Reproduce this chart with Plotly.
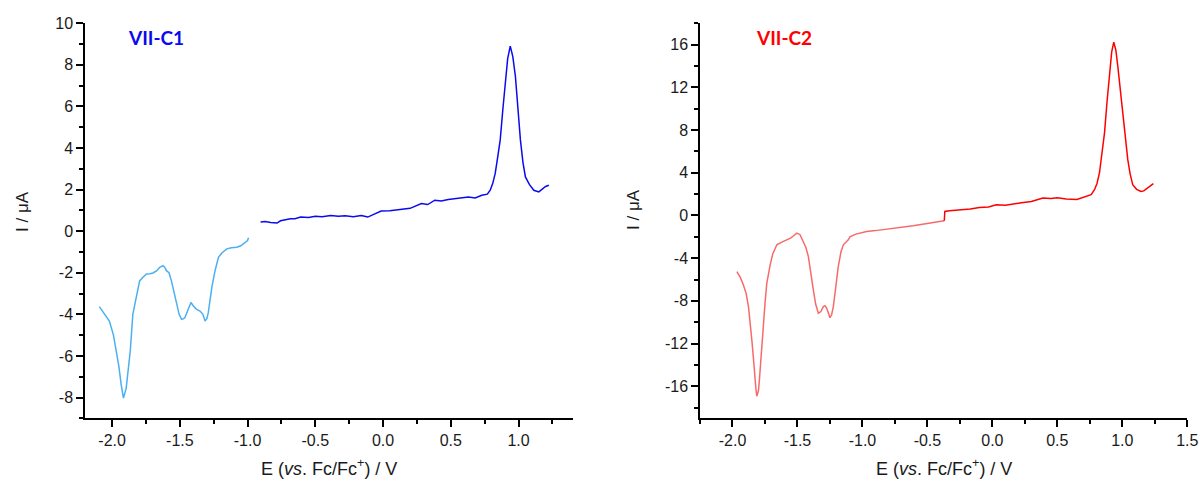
import plotly.graph_objects as go

# ---------------- data ----------------
# VII-C1, cathodic part (light blue)
E1_red = [-2.094, -2.06, -2.02, -1.99, -1.97, -1.95, -1.933, -1.916, -1.896, -1.88, -1.866, -1.847,
          -1.82, -1.797, -1.77, -1.747, -1.72, -1.698, -1.67, -1.649, -1.624, -1.61, -1.599, -1.58,
          -1.562, -1.545, -1.525, -1.505, -1.487, -1.475, -1.463, -1.44, -1.418, -1.40, -1.376,
          -1.351, -1.33, -1.314, -1.30, -1.290, -1.277, -1.264, -1.24, -1.215, -1.19, -1.153,
          -1.12, -1.079, -1.05, -1.03, -1.0, -0.993]
I1_red = [-3.63, -3.95, -4.32, -5.0, -5.77, -6.5, -7.38, -8.03, -7.55, -6.7, -5.77, -4.0,
          -3.03, -2.39, -2.2, -2.06, -2.05, -2.01, -1.9, -1.74, -1.66, -1.75, -1.90, -2.0,
          -2.39, -2.9, -3.51, -4.0, -4.24, -4.22, -4.16, -3.8, -3.43, -3.6, -3.76,
          -3.84, -4.0, -4.32, -4.2, -3.92, -3.3, -2.71, -1.9, -1.26, -1.05, -0.85,
          -0.8, -0.77, -0.7, -0.61, -0.45, -0.32]

# VII-C1, anodic part (blue)
E1_ox = [-0.904, -0.87, -0.83, -0.782, -0.757, -0.72, -0.683, -0.65, -0.608, -0.55, -0.5, -0.45,
         -0.386, -0.33, -0.28, -0.22, -0.16, -0.113, -0.06, -0.014, 0.05, 0.134, 0.2, 0.283,
         0.33, 0.382, 0.43, 0.481, 0.55, 0.63, 0.68, 0.729, 0.77, 0.791, 0.81, 0.828, 0.845,
         0.865, 0.885, 0.902, 0.92, 0.939, 0.958, 0.977, 0.995, 1.014, 1.033, 1.051, 1.08,
         1.113, 1.15, 1.18, 1.2, 1.224]
I1_ox = [0.44, 0.47, 0.42, 0.39, 0.5, 0.55, 0.60, 0.6, 0.68, 0.66, 0.72, 0.7,
         0.76, 0.72, 0.74, 0.7, 0.75, 0.68, 0.85, 0.97, 0.98, 1.04, 1.1, 1.33,
         1.28, 1.49, 1.45, 1.52, 1.58, 1.64, 1.6, 1.73, 1.78, 1.97, 2.3, 2.78, 3.5,
         4.39, 5.9, 7.13, 8.3, 8.90, 8.4, 7.45, 5.9, 4.39, 3.3, 2.61, 2.25,
         1.97, 1.89, 2.05, 2.15, 2.21]

# VII-C2, cathodic part (light red)
E2_red = [-1.966, -1.94, -1.916, -1.895, -1.877, -1.86, -1.851, -1.84, -1.831, -1.82, -1.813,
          -1.80, -1.793, -1.78, -1.762, -1.75, -1.736, -1.72, -1.710, -1.69, -1.659, -1.62,
          -1.582, -1.55, -1.53, -1.505, -1.48, -1.455, -1.435, -1.416, -1.40, -1.378, -1.36,
          -1.339, -1.32, -1.301, -1.288, -1.275, -1.26, -1.250, -1.237, -1.224, -1.205,
          -1.186, -1.165, -1.147, -1.109, -1.096, -1.05, -0.968, -0.90, -0.840, -0.78,
          -0.725, -0.66, -0.610, -0.55, -0.49, -0.43, -0.380, -0.37]
I2_red = [-5.26, -5.8, -6.51, -7.3, -8.54, -10.3, -11.67, -13.2, -14.80, -16.2, -16.93,
          -16.4, -15.43, -13.0, -10.42, -8.3, -6.35, -5.2, -4.63, -3.6, -2.75, -2.5,
          -2.28, -2.1, -1.9, -1.65, -1.8, -2.44, -3.0, -3.85, -5.3, -6.98, -8.3,
          -9.16, -9.0, -8.54, -8.45, -8.69, -9.2, -9.58, -9.3, -8.54, -6.7,
          -4.79, -3.4, -2.75, -2.28, -2.0, -1.75, -1.50, -1.42, -1.34, -1.25,
          -1.18, -1.07, -0.97, -0.85, -0.75, -0.62, -0.56, -0.5]

# VII-C2, anodic part (red)
E2_ox = [-0.37, -0.366, -0.33, -0.28, -0.226, -0.17, -0.1, -0.03, 0.031, 0.1, 0.21, 0.3, 0.389,
         0.45, 0.50, 0.568, 0.65, 0.722, 0.76, 0.786, 0.805, 0.824, 0.843, 0.863, 0.882,
         0.901, 0.918, 0.934, 0.95, 0.965, 0.984, 1.003, 1.022, 1.042, 1.06, 1.080, 1.11,
         1.144, 1.165, 1.183, 1.21, 1.239]
I2_ox = [-0.5, 0.38, 0.45, 0.5, 0.54, 0.6, 0.75, 0.8, 1.0, 0.95, 1.16, 1.3, 1.63,
         1.6, 1.66, 1.54, 1.5, 1.78, 1.95, 2.41, 3.0, 3.98, 5.6, 7.74, 10.6,
         13.37, 15.3, 16.24, 15.5, 13.99, 11.7, 9.30, 7.1, 5.23, 3.9, 2.88, 2.45,
         2.25, 2.3, 2.48, 2.7, 2.98]

# tick values / labels
x_ticks = [-2.0, -1.5, -1.0, -0.5, 0.0, 0.5, 1.0, 1.5]
x_labels = ["-2.0", "-1.5", "-1.0", "-0.5", "0.0", "0.5", "1.0", "1.5"]
y1_ticks = [-8, -6, -4, -2, 0, 2, 4, 6, 8, 10]
y1_labels = ["-8", "-6", "-4", "-2", "0", "2", "4", "6", "8", "10"]
y2_ticks = [-16, -12, -8, -4, 0, 4, 8, 12, 16]
y2_labels = ["-16", "-12", "-8", "-4", "0", "4", "8", "12", "16"]

labels = ["VII-C1", "VII-C2"]
x_title = "E (<i>vs</i>. Fc/Fc<sup>+</sup>) / V"
y_title = "I / \u03bcA"

# ---------------- figure ----------------
W, H = 1202, 482
fig = go.Figure()
line_w = 1.5
fig.add_trace(go.Scatter(x=E1_red, y=I1_red, mode="lines", line=dict(color="#4AB0F2", width=line_w),
                         xaxis="x", yaxis="y", showlegend=False))
fig.add_trace(go.Scatter(x=E1_ox, y=I1_ox, mode="lines", line=dict(color="#0A0AF0", width=line_w),
                         xaxis="x", yaxis="y", showlegend=False))
fig.add_trace(go.Scatter(x=E2_red, y=I2_red, mode="lines", line=dict(color="#F76A6A", width=line_w),
                         xaxis="x2", yaxis="y2", showlegend=False))
fig.add_trace(go.Scatter(x=E2_ox, y=I2_ox, mode="lines", line=dict(color="#FF0000", width=line_w),
                         xaxis="x2", yaxis="y2", showlegend=False))

tick_font = dict(family="Arial, Liberation Sans, sans-serif", size=16, color="#1a1a1a")
common = dict(showline=True, linecolor="black", linewidth=1.5, ticks="outside", ticklen=7,
              tickwidth=1.5, tickcolor="black", showgrid=False, zeroline=False,
              tickfont=tick_font, tickmode="array", fixedrange=True, automargin=False)


def px_x(p):
    return p / W


def px_y(p):
    return 1 - p / H


ydom = [px_y(418.3), px_y(23.3)]
fig.update_layout(
    width=W, height=H, margin=dict(l=0, r=0, t=0, b=0, pad=0),
    paper_bgcolor="white", plot_bgcolor="white",
    xaxis=dict(common, domain=[px_x(85), px_x(572.7)], range=[-2.2, 1.4], anchor="y",
               tickvals=x_ticks, ticktext=x_labels,
               minor=dict(ticks="outside", ticklen=4, tickwidth=1.5, tickcolor="black",
                          tickmode="linear", tick0=0.25, dtick=0.5)),
    yaxis=dict(common, domain=ydom, range=[-9, 10], anchor="x",
               tickvals=y1_ticks, ticktext=y1_labels,
               minor=dict(ticks="outside", ticklen=4, tickwidth=1.5, tickcolor="black",
                          tickmode="linear", tick0=1, dtick=2)),
    xaxis2=dict(common, domain=[px_x(700), px_x(1187.3)], range=[-2.25, 1.5], anchor="y2",
                tickvals=x_ticks, ticktext=x_labels,
                minor=dict(ticks="outside", ticklen=4, tickwidth=1.5, tickcolor="black",
                           tickmode="linear", tick0=0.25, dtick=0.5)),
    yaxis2=dict(common, domain=ydom, range=[-19, 18], anchor="x2",
                tickvals=y2_ticks, ticktext=y2_labels,
                minor=dict(ticks="outside", ticklen=4, tickwidth=1.5, tickcolor="black",
                           tickmode="linear", tick0=2, dtick=4)),
)

xt_font = dict(family="Arial, Liberation Sans, sans-serif", size=18, color="#1a1a1a")
yt_font = dict(family="Arial, Liberation Sans, sans-serif", size=17, color="#1a1a1a")
label_font = dict(family="Lato, Open Sans, sans-serif", size=19)
annos = [
    dict(text=x_title, x=px_x(329), y=px_y(467), xanchor="center", yanchor="middle", font=xt_font),
    dict(text=x_title, x=px_x(943.6), y=px_y(467), xanchor="center", yanchor="middle", font=xt_font),
    dict(text=y_title, x=px_x(22), y=px_y(212), xanchor="center", yanchor="middle", textangle=-90,
         font=yt_font),
    dict(text=y_title, x=px_x(633), y=px_y(210), xanchor="center", yanchor="middle", textangle=-90,
         font=yt_font),
    dict(text="<b>" + labels[0] + "</b>", x=px_x(126), y=px_y(38), xanchor="left", yanchor="middle",
         font=dict(label_font, color="#0A0AF0")),
    dict(text="<b>" + labels[1] + "</b>", x=px_x(754), y=px_y(38), xanchor="left", yanchor="middle",
         font=dict(label_font, color="#FF0000")),
]
for a in annos:
    fig.add_annotation(a, xref="paper", yref="paper", showarrow=False)

fig.write_html(
    "out.html",
    config={"displayModeBar": False},
    post_script="document.body.style.margin='0';document.body.style.overflow='hidden';",
)
